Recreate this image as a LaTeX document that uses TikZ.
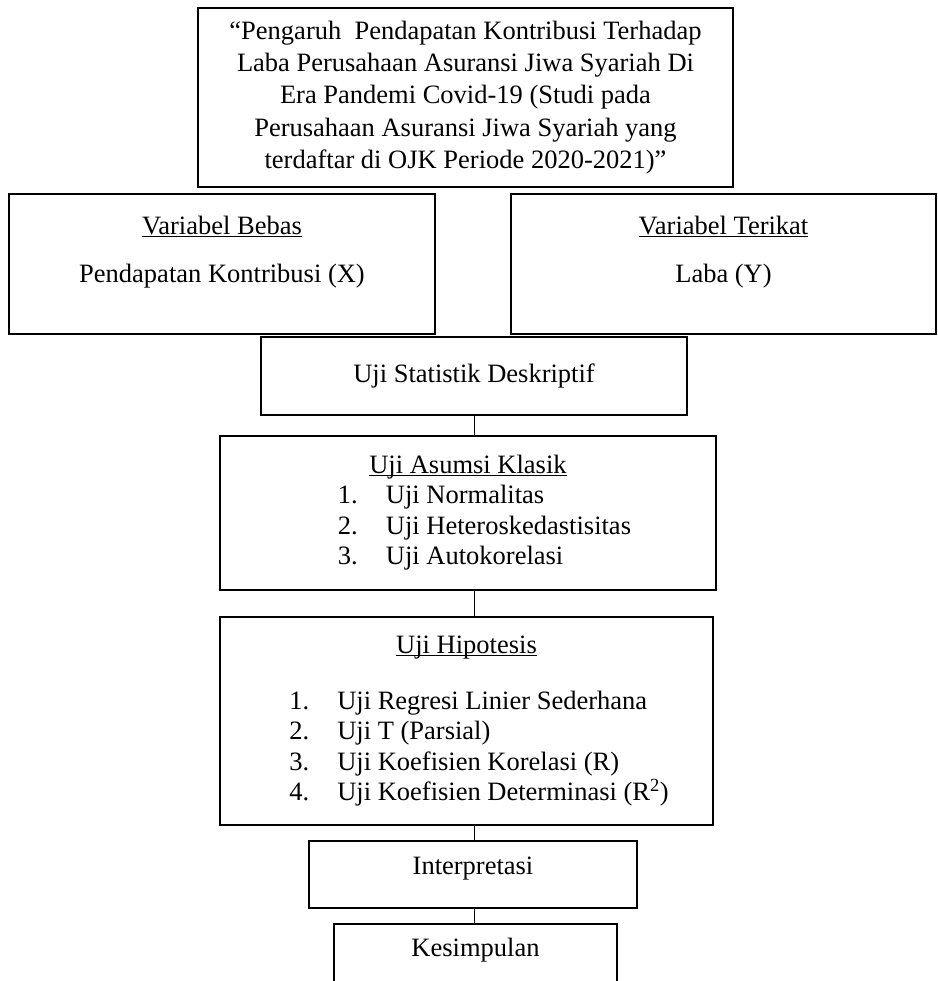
\documentclass[tikz,border=0pt]{standalone}
\usepackage{fontspec}
\setmainfont{Liberation Serif}
\usepackage{tikz}

\newcommand{\undr}[1]{\setbox0=\hbox{#1}\rlap{\rule[-3pt]{\wd0}{1.3pt}}\box0}

\begin{document}
\begin{tikzpicture}[x=1pt, y=-1pt,
	box/.style={draw, line width=2.6pt, inner sep=0pt, font=\fontsize{26.5}{30.5}\selectfont},
	link/.style={line width=1pt}]
	\useasboundingbox (0,0) rectangle (937,981);
	\clip (0,0) rectangle (937,981);
	% Nodes
	\node[box, minimum width=535, minimum height=179, font=\fontsize{26.5}{32.4}\selectfont] (judul) at (465.5,97.5) {\begin{tabular}{@{}c@{}}“Pengaruh\ \ Pendapatan Kontribusi Terhadap\\ Laba Perusahaan Asuransi Jiwa Syariah Di\\ Era Pandemi Covid-19 (Studi pada\\ Perusahaan Asuransi Jiwa Syariah yang\\ terdaftar di OJK Periode 2020-2021)”\end{tabular}};
	\node[box, minimum width=426, minimum height=140] (bebas) at (222,264) {\begin{tabular}{@{}c@{}}\undr{Variabel Bebas}\\[17.5pt] Pendapatan Kontribusi (X)\\[23.5pt]\end{tabular}};
	\node[box, minimum width=425, minimum height=140] (terikat) at (723.5,264) {\begin{tabular}{@{}c@{}}\undr{Variabel Terikat}\\[17.5pt] Laba (Y)\\[23.5pt]\end{tabular}};
	\node[box, minimum width=426, minimum height=78] (deskriptif) at (474,376) {Uji Statistik Deskriptif};
	\node[box, minimum width=496, minimum height=154] (asumsi) at (468,513) {\begin{tabular}{@{\hspace{33pt}}p{48pt}@{}l@{}}
		\multicolumn{2}{@{}c@{}}{\undr{Uji Asumsi Klasik}}\\
		1. & Uji Normalitas\\
		2. & Uji Heteroskedastisitas\\
		3. & Uji Autokorelasi
	\end{tabular}};
	\node[box, minimum width=493, minimum height=208] (hipotesis) at (466.5,721) {\begin{tabular}{@{\hspace{25pt}}p{48pt}@{}l@{}}
		\multicolumn{2}{@{}c@{}}{\undr{Uji Hipotesis}}\\[25.5pt]
		1. & Uji Regresi Linier Sederhana\\
		2. & Uji T (Parsial)\\
		3. & Uji Koefisien Korelasi (R)\\
		4. & Uji Koefisien Determinasi (R\textsuperscript{2})
	\end{tabular}};
	\node[box, minimum width=328, minimum height=67] (interpretasi) at (473,874.5) {\begin{tabular}{@{}c@{}}Interpretasi\\[13pt]\end{tabular}};
	\node[box, minimum width=283, minimum height=90] (kesimpulan) at (475.5,969) {\begin{tabular}{@{}c@{}}Kesimpulan\\[38pt]\end{tabular}};
	\coordinate (spine) at (474,0);
	% Edges
	\draw[link] (spine |- deskriptif.south) -- (spine |- asumsi.north);
	\draw[link] (spine |- asumsi.south) -- (spine |- hipotesis.north);
	\draw[link] (spine |- hipotesis.south) -- (spine |- interpretasi.north);
	\draw[link] (spine |- interpretasi.south) -- (spine |- kesimpulan.north);
\end{tikzpicture}
\end{document}
